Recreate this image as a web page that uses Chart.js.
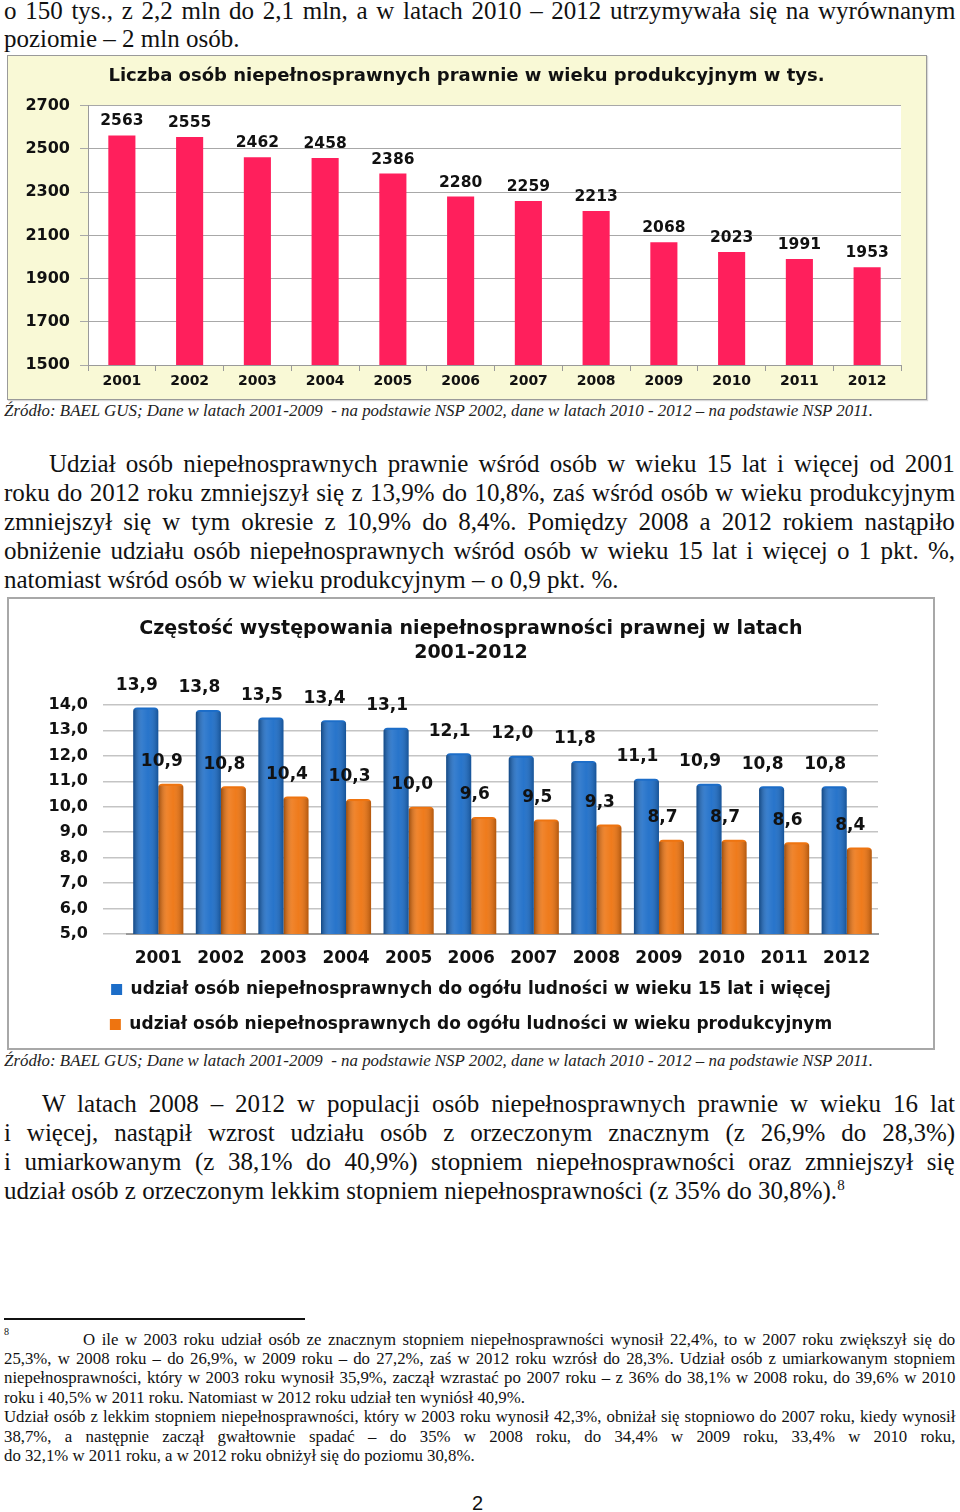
<!DOCTYPE html>
<html>
<head>
<meta charset="utf-8">
<script src="https://cdn.jsdelivr.net/npm/chart.js@4.4.1/dist/chart.umd.min.js"></script>
<style>
  html, body { margin: 0; padding: 0; background: #fff; }
  body { width: 960px; height: 1512px; position: relative; overflow: hidden; }
  .ln { position: absolute; white-space: nowrap; font-family: "Liberation Serif", serif; font-size: 25px; line-height: 29px; height: 29px; color: #111; }
  .ln span { display: inline-block; transform-origin: 0 50%; }
  .src { font-size: 16.9px; line-height: 19px; height: 19px; font-style: italic; color: #222; }
  .fn { font-size: 16.8px; line-height: 19px; height: 19px; }
  sup { font-size: 60%; line-height: 0; }
  .box { position: absolute; box-sizing: border-box; }
  #box1 { left: 7px; top: 55px; width: 920px; height: 345px; background: #f9f9d6; border: 1.5px solid #9a9a9a; box-shadow: 1px 1px 1px rgba(0,0,0,0.15); }
  #box2 { left: 7px; top: 597px; width: 928px; height: 453px; background: #fff; border: 2px solid #a8a8a8; }
  .box canvas { position: absolute; left: 0; top: 0; }
  #sep { position: absolute; left: 4px; top: 1318px; width: 301px; height: 1.5px; background: #111; }
  #pg { position: absolute; left: 472px; top: 1492px; font-family: "Liberation Sans", sans-serif; font-size: 20px; color: #111; }
</style>
</head>
<body>

<div class="ln j" style="top:-4px;left:4px;width:951px"><span>o 150 tys., z 2,2 mln do 2,1 mln, a w latach 2010 – 2012 utrzymywała się na wyrównanym</span></div>
<div class="ln" style="top:24px;left:4px"><span>poziomie – 2 mln osób.</span></div>

<div class="box" id="box1"><div style="position:absolute;left:0;top:0;width:917px;height:342px"><canvas id="chart1"></canvas></div></div>

<div class="ln src" style="top:401px;left:4px"><span>Źródło: BAEL GUS; Dane w latach 2001-2009&nbsp; - na podstawie NSP 2002, dane w latach 2010 - 2012 – na podstawie NSP 2011.</span></div>

<div class="ln j" style="top:449px;left:49px;width:906px"><span>Udział osób niepełnosprawnych prawnie wśród osób w wieku 15 lat i więcej od 2001</span></div>
<div class="ln j" style="top:478px;left:4px;width:951px"><span>roku do 2012 roku zmniejszył się z 13,9% do 10,8%, zaś wśród osób w wieku produkcyjnym</span></div>
<div class="ln j" style="top:507px;left:4px;width:951px"><span>zmniejszył się w tym okresie z 10,9% do 8,4%. Pomiędzy 2008 a 2012 rokiem nastąpiło</span></div>
<div class="ln j" style="top:536px;left:4px;width:951px"><span>obniżenie udziału osób niepełnosprawnych wśród osób w wieku 15 lat i więcej o 1 pkt. %,</span></div>
<div class="ln" style="top:565px;left:4px"><span>natomiast wśród osób w wieku produkcyjnym – o 0,9 pkt. %.</span></div>

<div class="box" id="box2"><div style="position:absolute;left:0;top:0;width:924px;height:449px"><canvas id="chart2"></canvas></div></div>

<div class="ln src" style="top:1051px;left:4px"><span>Źródło: BAEL GUS; Dane w latach 2001-2009&nbsp; - na podstawie NSP 2002, dane w latach 2010 - 2012 – na podstawie NSP 2011.</span></div>

<div class="ln j" style="top:1089px;left:42px;width:913px"><span>W latach 2008 – 2012 w populacji osób niepełnosprawnych prawnie w wieku 16 lat</span></div>
<div class="ln j" style="top:1118px;left:4px;width:951px"><span>i więcej, nastąpił wzrost udziału osób z orzeczonym znacznym (z 26,9% do 28,3%)</span></div>
<div class="ln j" style="top:1147px;left:4px;width:951px"><span>i umiarkowanym (z 38,1% do 40,9%) stopniem niepełnosprawności oraz zmniejszył się</span></div>
<div class="ln" style="top:1176px;left:4px"><span>udział osób z orzeczonym lekkim stopniem niepełnosprawności (z 35% do 30,8%).<sup>8</sup></span></div>

<div id="sep"></div>
<div class="ln fn" style="top:1327px;left:4px"><span><sup>8</sup></span></div>
<div class="ln fn j" style="top:1330px;left:83px;width:872px"><span>O ile w 2003 roku udział osób ze znacznym stopniem niepełnosprawności wynosił 22,4%, to w 2007 roku zwiększył się do</span></div>
<div class="ln fn j" style="top:1349px;left:4px;width:951px"><span>25,3%, w 2008 roku – do 26,9%, w 2009 roku – do 27,2%, zaś w 2012 roku wzrósł do 28,3%. Udział osób z umiarkowanym stopniem</span></div>
<div class="ln fn j" style="top:1368px;left:4px;width:951px"><span>niepełnosprawności, który w 2003 roku wynosił 35,9%, zaczął wzrastać po 2007 roku – z 36% do 38,1% w 2008 roku, do 39,6% w 2010</span></div>
<div class="ln fn" style="top:1388px;left:4px"><span>roku i 40,5% w 2011 roku. Natomiast w 2012 roku udział ten wyniósł 40,9%.</span></div>
<div class="ln fn j" style="top:1407px;left:4px;width:951px"><span>Udział osób z lekkim stopniem niepełnosprawności, który w 2003 roku wynosił 42,3%, obniżał się stopniowo do 2007 roku, kiedy wynosił</span></div>
<div class="ln fn j" style="top:1427px;left:4px;width:951px"><span>38,7%, a następnie zaczął gwałtownie spadać – do 35% w 2008 roku, do 34,4% w 2009 roku, 33,4% w 2010 roku,</span></div>
<div class="ln fn" style="top:1446px;left:4px"><span>do 32,1% w 2011 roku, a w 2012 roku obniżył się do poziomu 30,8%.</span></div>

<div id="pg">2</div>

<script>
  // chart data
  let years = ["2001", "2002", "2003", "2004", "2005", "2006", "2007", "2008", "2009", "2010", "2011", "2012"];
  let peopleWorkingAge = [2563, 2555, 2462, 2458, 2386, 2280, 2259, 2213, 2068, 2023, 1991, 1953];
  let share15Plus = [13.9, 13.8, 13.5, 13.4, 13.1, 12.1, 12.0, 11.8, 11.1, 10.9, 10.8, 10.8];
  let shareWorkingAge = [10.9, 10.8, 10.4, 10.3, 10.0, 9.6, 9.5, 9.3, 8.7, 8.7, 8.6, 8.4];
  let seriesNames = [
    "udział osób niepełnosprawnych do ogółu ludności w wieku 15 lat i więcej",
    "udział osób niepełnosprawnych do ogółu ludności w wieku produkcyjnym",
  ];

  // justify lines to the widths of the scan
  document.querySelectorAll(".ln").forEach(ln => {
    let span = ln.querySelector("span");
    let s = 1;
    if (ln.classList.contains("j")) {
      let target = parseFloat(ln.style.width);
      let w0 = span.offsetWidth;
      let spaces = (span.textContent.match(/ /g) || []).length;
      if (w0 < target && spaces) {
        span.style.wordSpacing = ((target - w0) / spaces) + "px";
      } else {
        s = target / w0;
      }
    }
    span.style.transform = "scaleX(" + s + ")";
  });

  Chart.defaults.font.family = "'DejaVu Sans', Verdana, sans-serif";
  Chart.defaults.font.weight = "bold";
  Chart.defaults.color = "#111";
  Chart.defaults.animation = false;

  function commaFmt(v) {
    return Number(v).toFixed(1).replace(".", ",");
  }

  // white plot area
  const plotBg = {
    id: "plotBg",
    beforeDraw(chart, args, opts) {
      if (!opts.color) return;
      const a = chart.chartArea;
      const ctx = chart.ctx;
      ctx.save();
      ctx.fillStyle = opts.color;
      ctx.fillRect(a.left, a.top, a.right - a.left, a.bottom - a.top);
      ctx.restore();
    }
  };

  // cylinder-ish shading on bars
  const barShade = {
    id: "barShade",
    afterDatasetDraw(chart, args, opts) {
      if (!opts.on) return;
      const ctx = chart.ctx;
      const bottom = chart.chartArea.bottom;
      args.meta.data.forEach(el => {
        const l = el.x - el.width / 2, r = el.x + el.width / 2;
        const g = ctx.createLinearGradient(l, 0, r, 0);
        g.addColorStop(0, "rgba(0,0,0,0.35)");
        g.addColorStop(0.35, "rgba(255,255,255,0.12)");
        g.addColorStop(0.6, "rgba(255,255,255,0.05)");
        g.addColorStop(1, "rgba(0,0,0,0.25)");
        ctx.save();
        ctx.fillStyle = g;
        ctx.fillRect(l, el.y + 2, el.width, Math.min(el.base, bottom) - el.y - 2);
        ctx.restore();
      });
    }
  };

  // value labels above bars
  const barLabels = {
    id: "barLabels",
    afterDatasetsDraw(chart, args, opts) {
      const ctx = chart.ctx;
      ctx.save();
      ctx.font = "bold " + opts.size + "px 'DejaVu Sans'";
      ctx.fillStyle = "#111";
      ctx.textAlign = "center";
      ctx.textBaseline = "middle";
      chart.data.datasets.forEach((ds, di) => {
        chart.getDatasetMeta(di).data.forEach((el, i) => {
          ctx.fillText(opts.fmt(ds.data[i]), el.x + opts.dx, el.y - opts.dy);
        });
      });
      ctx.restore();
    }
  };

  // chart 1 - liczba osób
  new Chart(document.getElementById("chart1"), {
    type: "bar",
    data: {
      labels: years,
      datasets: [{
        data: peopleWorkingAge,
        backgroundColor: "#ff1f5c",
        barPercentage: 0.4,
        categoryPercentage: 1,
      }]
    },
    options: {
      responsive: true,
      maintainAspectRatio: false,
      layout: { padding: 0 },
      plugins: {
        legend: { display: false },
        tooltip: { enabled: false },
        title: {
          display: true,
          text: "Liczba osób niepełnosprawnych prawnie w wieku produkcyjnym w tys.",
          font: { size: 18, weight: "bold", lineHeight: 1.1 },
          color: "#111",
          padding: { top: 10, bottom: 20 },
        },
        plotBg: { color: "#ffffff" },
        barLabels: { size: 15.5, dx: 0, dy: 14, fmt: v => String(v) },
      },
      scales: {
        x: {
          grid: { drawOnChartArea: false, drawTicks: true, tickLength: 6, color: "#9a9a9a" },
          border: { color: "#9a9a9a" },
          ticks: { padding: 2, font: { size: 14, weight: "bold" }, color: "#111" },
          afterFit(s) { s.height = 33; },
        },
        y: {
          min: 1500,
          max: 2700,
          ticks: { stepSize: 200, padding: 10, font: { size: 16, weight: "bold" }, color: "#111", callback: v => String(v) },
          grid: { color: "#a8a8a8", tickLength: 8 },
          border: { color: "#9a9a9a" },
          afterFit(s) { s.width = 80; },
        },
        yr: {
          position: "right",
          display: true,
          grid: { display: false },
          ticks: { display: false },
          border: { display: false },
          afterFit(s) { s.width = 24; },
        },
      },
    },
    plugins: [plotBg, barLabels],
  });

  // chart 2 - częstość
  new Chart(document.getElementById("chart2"), {
    type: "bar",
    data: {
      labels: years,
      datasets: [
        { label: seriesNames[0], data: share15Plus, backgroundColor: "#1c6dc8", borderRadius: { topLeft: 4, topRight: 4 }, borderSkipped: "bottom" },
        { label: seriesNames[1], data: shareWorkingAge, backgroundColor: "#ee7410", borderRadius: { topLeft: 4, topRight: 4 }, borderSkipped: "bottom" },
      ]
    },
    options: {
      responsive: true,
      maintainAspectRatio: false,
      datasets: { bar: { barPercentage: 1, categoryPercentage: 0.8 } },
      layout: { padding: { bottom: 5 } },
      plugins: {
        tooltip: { enabled: false },
        title: {
          display: true,
          text: ["Częstość występowania niepełnosprawności prawnej w latach", "2001-2012"],
          font: { size: 19, weight: "bold", lineHeight: 1.26 },
          color: "#111",
          padding: { top: 18, bottom: 40 },
        },
        legend: {
          position: "bottom",
          labels: {
            boxWidth: 11,
            boxHeight: 11,
            padding: 18,
            font: { size: 17, weight: "bold" },
            color: "#111",
          },
        },
        barShade: { on: true },
        barLabels: { size: 17, dx: -9, dy: 22, fmt: commaFmt },
      },
      scales: {
        x: {
          grid: { display: false },
          border: { color: "#9a9a9a", width: 2 },
          ticks: { padding: 6, font: { size: 17, weight: "bold" }, color: "#111" },
          afterFit(s) { s.height = 29; },
        },
        y: {
          min: 5,
          max: 14,
          ticks: { stepSize: 1, padding: 15, font: { size: 16, weight: "bold" }, color: "#111", callback: v => commaFmt(v) },
          grid: { color: "#c4c4c4", lineWidth: 1.5, tickLength: 24, tickColor: "#c4c4c4" },
          border: { display: false },
          afterFit(s) { s.width = 118; },
        },
        yr: {
          position: "right",
          display: true,
          grid: { display: false },
          ticks: { display: false },
          border: { display: false },
          afterFit(s) { s.width = 55; },
        },
      },
    },
    plugins: [barShade, barLabels],
  });
</script>
</body>
</html>
